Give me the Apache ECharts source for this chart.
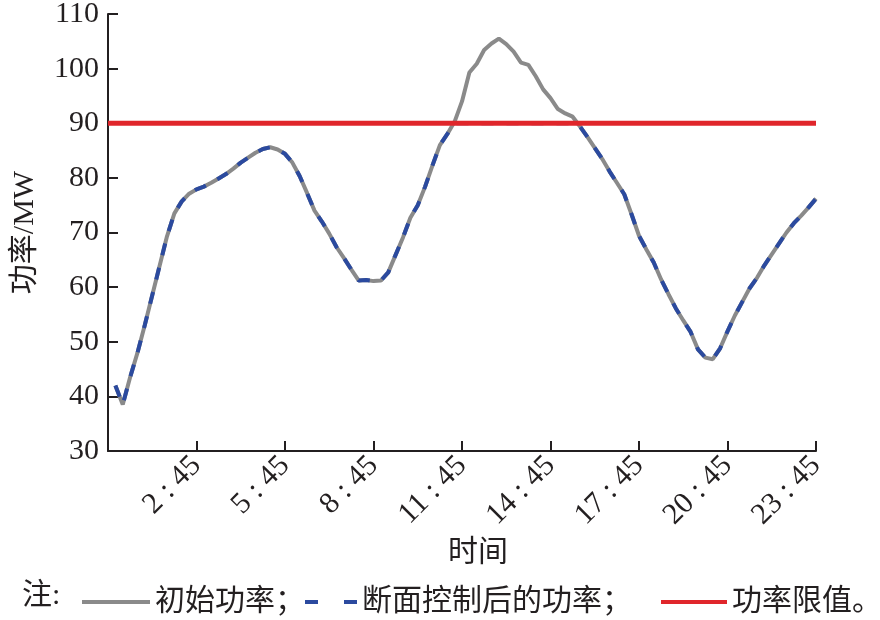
<!DOCTYPE html>
<html>
<head>
<meta charset="utf-8">
<script src="https://cdn.jsdelivr.net/npm/echarts@6/dist/echarts.min.js"></script>
<style>
html,body{margin:0;padding:0;background:#fff;}
#chart{width:880px;height:620px;}
</style>
</head>
<body>
<div id="chart"></div>
<script>
// time slot numbers (15-min), slot 1 = first sample
var slots = [1,2,3,4,5,6,7,8,9,10,11,12,13,14,15,16,17,18,19,20,21,22,23,24,
  25,26,27,28,29,30,31,32,33,34,35,36,37,38,39,40,41,42,43,44,45,46,47,48,
  49,50,51,52,53,54,55,56,57,58,59,60,61,62,63,64,65,66,67,68,69,70,71,72,
  73,74,75,76,77,78,79,80,81,82,83,84,85,86,87,88,89,90,91,92,93,94,95,96];

var initialPower = [42,38.5,43.5,48,53.1,58.5,63.9,69.3,73.5,75.7,77.1,77.9,
  78.4,79.1,79.9,80.7,81.7,82.8,83.7,84.6,85.3,85.6,85.2,84.4,
  82.8,80.3,77.2,74,72,69.8,67.3,65.3,63.2,61.2,61.3,61.1,
  61.2,62.7,65.9,69.1,72.7,75,78.4,82.3,86,88,90.3,94,
  99.3,100.9,103.4,104.6,105.5,104.5,103.1,101.1,100.7,98.6,96.2,94.6,
  92.6,91.8,91.2,89.4,87.5,85.5,83.5,81.2,79.1,77,73.3,69.4,
  66.9,64.5,61.4,58.7,56.1,53.9,51.8,48.6,47.1,46.8,48.8,51.9,
  54.8,57.3,59.8,61.7,64,66,68,70,71.7,73.1,74.6,76.2];

var controlledPower = [42,38.5,43.5,48,53.1,58.5,63.9,69.3,73.5,75.7,77.1,77.9,
  78.4,79.1,79.9,80.7,81.7,82.8,83.7,84.6,85.3,85.6,85.2,84.4,
  82.8,80.3,77.2,74,72,69.8,67.3,65.3,63.2,61.2,61.3,61.1,
  61.2,62.7,65.9,69.1,72.7,75,78.4,82.3,86,88,90,90,
  90,90,90,90,90,90,90,90,90,90,90,90,
  90,90,90,89.4,87.5,85.5,83.5,81.2,79.1,77,73.3,69.4,
  66.9,64.5,61.4,58.7,56.1,53.9,51.8,48.6,47.1,46.8,48.8,51.9,
  54.8,57.3,59.8,61.7,64,66,68,70,71.7,73.1,74.6,76.2];

var limitSlots = [0, 96];
var limitValues = [90, 90];

var tickLabels = ['2 : 45','5 : 45','8 : 45','11 : 45','14 : 45','17 : 45','20 : 45','23 : 45'];

var seriesNames = ['初始功率','断面控制后的功率','功率限值'];

function pairs(xs, ys){ return xs.map(function(x,i){ return [x, ys[i]]; }); }

var FONT = "Liberation Serif, Noto Sans CJK SC, serif";
var INK = '#231f20';

var chart = echarts.init(document.getElementById('chart'));
chart.setOption({
  backgroundColor: '#fff',
  animation: false,
  grid: {left: 108, right: 64, top: 14, bottom: 169, containLabel: false, outerBoundsMode: 'none'},
  xAxis: {
    type: 'value', min: 0, max: 96, interval: 12,
    name: '时间', nameLocation: 'middle', nameGap: 87, nameMoveOverlap: false,
    nameTextStyle: {fontFamily: FONT, fontSize: 30, color: INK, padding: [0,0,0,32]},
    axisLine: {lineStyle: {color: INK, width: 2}},
    axisTick: {inside: true, length: 10, lineStyle: {color: INK, width: 2}},
    splitLine: {show: false},
    axisLabel: {
      rotate: 45, margin: 10, fontFamily: FONT, fontSize: 30, color: INK,
      showMinLabel: true, showMaxLabel: true, hideOverlap: false,
      formatter: function(v){ var k = v/12; return k >= 1 ? tickLabels[k-1] : ''; }
    }
  },
  yAxis: {
    type: 'value', min: 30, max: 110, interval: 10,
    name: '功率/MW', nameLocation: 'middle', nameGap: 68, nameMoveOverlap: false,
    nameTextStyle: {fontFamily: FONT, fontSize: 30, color: INK},
    axisLine: {show: true, lineStyle: {color: INK, width: 2}},
    axisTick: {show: true, inside: true, length: 10, lineStyle: {color: INK, width: 2}},
    splitLine: {show: false},
    axisLabel: {margin: 9, fontFamily: FONT, fontSize: 30, color: INK}
  },
  legend: [
    {left: 77, top: 582, itemWidth: 68, itemHeight: 4, itemGap: 0,
     data: [{name: seriesNames[0], icon: 'rect'}], formatter: function(n){ return n + '；'; },
     textStyle: {fontFamily: FONT, fontSize: 30, color: INK}},
    {left: 300, top: 582, itemWidth: 52, itemHeight: 4, itemGap: 0,
     data: [{name: seriesNames[1], icon: 'path://M0,0h13v4h-13z M39,0h13v4h-13z'}],
     formatter: function(n){ return n + '；'; },
     textStyle: {fontFamily: FONT, fontSize: 30, color: INK}},
    {left: 656, top: 582, itemWidth: 66, itemHeight: 4, itemGap: 0,
     data: [{name: seriesNames[2], icon: 'rect'}], formatter: function(n){ return n + '。'; },
     textStyle: {fontFamily: FONT, fontSize: 30, color: INK}}
  ],
  graphic: [
    {type: 'text', left: 22, top: 581,
     style: {text: '注:', font: '30px ' + FONT, fill: INK}}
  ],
  series: [
    {name: seriesNames[0], type: 'line', data: pairs(slots, initialPower),
     showSymbol: false, symbol: 'none', z: 2,
     lineStyle: {color: '#8a8a8a', width: 4}, itemStyle: {color: '#8a8a8a'}},
    {name: seriesNames[1], type: 'line', data: pairs(slots, controlledPower),
     showSymbol: false, symbol: 'none', z: 3,
     lineStyle: {color: '#2b4a9f', width: 4, type: [12, 13]}, itemStyle: {color: '#2b4a9f'}},
    {name: seriesNames[2], type: 'line', data: pairs(limitSlots, limitValues),
     showSymbol: false, symbol: 'none', z: 4,
     lineStyle: {color: '#e0262b', width: 4.8}, itemStyle: {color: '#e0262b'}}
  ]
});
</script>
</body>
</html>
